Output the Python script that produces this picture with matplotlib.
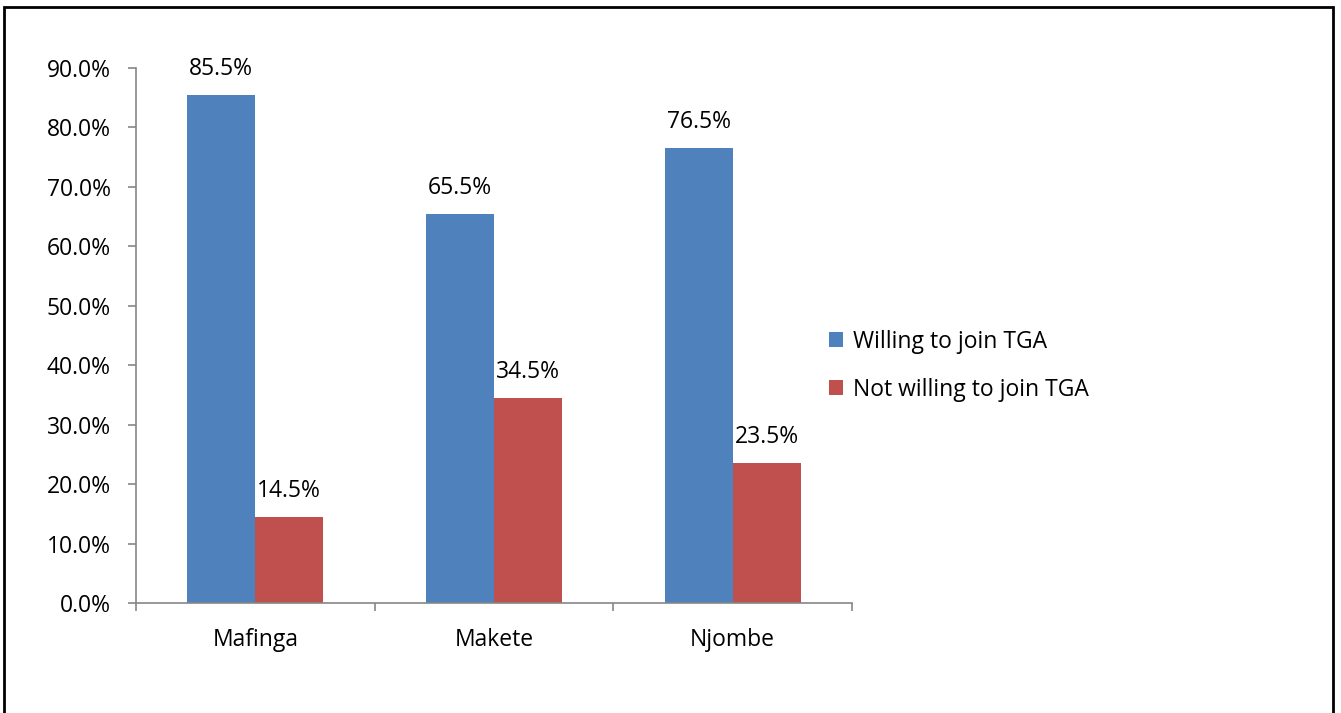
import matplotlib.pyplot as plt
import matplotlib.patches as patches
import numpy as np

plt.rcParams["font.family"] = ["Open Sans", "DejaVu Sans"]

# ---- data ----
districts = ["Mafinga", "Makete", "Njombe"]
willing = [85.5, 65.5, 76.5]
not_willing = [14.5, 34.5, 23.5]
series_names = ["Willing to join TGA", "Not willing to join TGA"]
colors = ["#4F81BD", "#C0504D"]

FS = 16.5

fig = plt.figure(figsize=(13.41, 7.13), dpi=100)
ax = fig.add_axes([0.1014, 0.1543, 0.5339, 0.7503])

x = np.arange(len(districts))
w = 0.285
bars1 = ax.bar(x - w / 2, willing, w, color=colors[0], label=series_names[0])
bars2 = ax.bar(x + w / 2, not_willing, w, color=colors[1], label=series_names[1])

# value labels above the bars
for bars, vals in [(bars1, willing), (bars2, not_willing)]:
    for b, v in zip(bars, vals):
        ax.annotate(f"{v:.1f}%", (b.get_x() + b.get_width() / 2, v),
                    xytext=(0, 10), textcoords="offset points",
                    ha="center", va="bottom", fontsize=FS)

ax.set_xlim(-0.5, len(districts) - 0.5)
ax.set_ylim(0, 90)
ax.set_yticks(np.arange(0, 91, 10))
ax.set_yticklabels([f"{t:.1f}%" for t in np.arange(0, 91, 10)], fontsize=FS)

# category labels centred, ticks at group boundaries
ax.set_xticks(x)
ax.set_xticklabels(districts, fontsize=FS)
ax.tick_params(axis="x", length=0, pad=18)
ax.set_xticks(np.arange(-0.5, len(districts)), minor=True)
ax.tick_params(axis="x", which="minor", length=6, color="#868686", width=1.2)
ax.tick_params(axis="y", length=6, color="#868686", width=1.2, pad=12)

for s in ["top", "right"]:
    ax.spines[s].set_visible(False)
for s in ["left", "bottom"]:
    ax.spines[s].set_color("#868686")
    ax.spines[s].set_linewidth(1.2)

fig.legend(loc="center left", bbox_to_anchor=(0.603, 0.487), frameon=False,
           fontsize=FS, handlelength=0.6, handleheight=0.6,
           handletextpad=0.45, labelspacing=1.05)

# outer frame
fig.patches.append(patches.Rectangle((4 / 1341, -0.01), 1329 / 1341, 1.0 - 7 / 713 + 0.01,
                                     transform=fig.transFigure, fill=False,
                                     edgecolor="black", linewidth=2))

fig.savefig("out.png", dpi=100)
